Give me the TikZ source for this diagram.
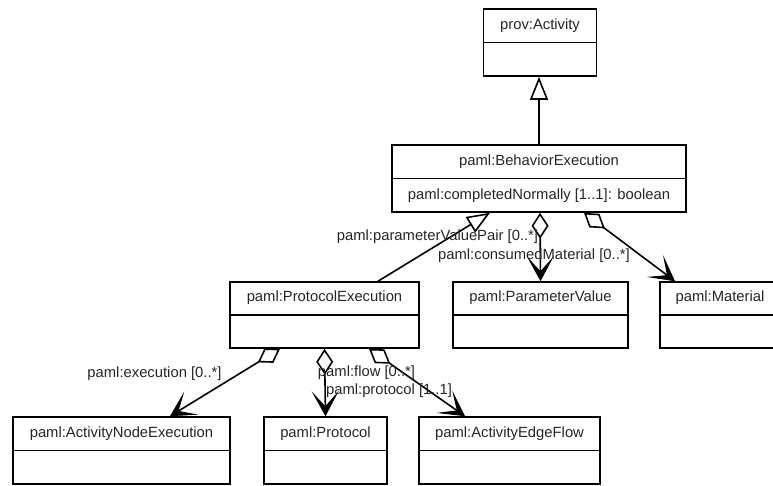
\documentclass[tikz,border=0pt]{standalone}
\usepackage{fontspec}
\setmainfont{Liberation Sans}
\usetikzlibrary{arrows.meta,calc}

\tikzset{
  classbox/.style={draw=black, line width=1.6pt, fill=white, inner sep=0pt},
  classline/.style={draw=black, line width=1.6pt},
  classtext/.style={inner sep=0pt, font=\fontsize{14.8}{17}\selectfont, text=black!85},
  roletext/.style={inner sep=0pt, font=\fontsize{14.8}{17}\selectfont, text=black!85},
  generalization/.style={line width=1.6pt,
    -{Triangle[length=23pt, width=18pt, fill=white, line width=1.6pt]}},
  aggregation/.style={line width=1.6pt,
    {Diamond[length=26pt, width=17pt, fill=white, line width=1.6pt]}-{Stealth[length=25pt, width=27pt, inset=15pt, line width=0.8pt]}},
}

% class box: name, centre x, centre y, width, height, class name
\newcommand\umlclass[6]{%
  \node[classbox, minimum width=#4pt, minimum height=#5pt] (#1) at (#2,#3) {};
  \draw[classline] (#1.west) -- (#1.east);
  \node[classtext] (#1-title) at ($(#1.north)!0.5!(#1.center)$) {#6};
}

\begin{document}
\begin{tikzpicture}[x=1pt, y=-1pt]
  \clip (0,0) rectangle (773,485);

  % classes
  \umlclass{act}{540}{42.5}{113}{67}{prov:Activity}
  \umlclass{beh}{539}{178.5}{294}{67}{paml:BehaviorExecution}
  \node[classtext] (beh-attr) at ($(beh.south)!0.5!(beh.center)$)
    {paml:completedNormally [1..1]: boolean};
  \umlclass{pe}{324.5}{315}{189}{66}{paml:ProtocolExecution}
  \umlclass{pv}{540.5}{315}{175}{66}{paml:ParameterValue}
  \umlclass{mat}{720}{315}{120}{66}{paml:Material}
  \umlclass{ane}{121.5}{450.5}{217}{67}{paml:ActivityNodeExecution}
  \umlclass{prot}{325.5}{450.5}{123}{67}{paml:Protocol}
  \umlclass{aef}{509.5}{450.5}{181}{67}{paml:ActivityEdgeFlow}

  % inheritance
  \draw[generalization] (beh.north) -- (beh.north |- act.south);
  \draw[generalization] ([xshift=53.5pt]pe.north) -- ([xshift=-49pt]beh.south);

  % associations
  \draw[aggregation] ([xshift=1pt]beh.south) -- (pv.north);
  \draw[aggregation] ([xshift=45pt]beh.south) -- ([xshift=-45pt]mat.north);
  \draw[aggregation] ([xshift=-44.5pt]pe.south) -- ([xshift=48.5pt]ane.north);
  \draw[aggregation] (pe.south) -- (prot.north);
  \draw[aggregation] ([xshift=44.5pt]pe.south) -- ([xshift=-44.5pt]aef.north);

  % role labels
  \node[roletext] (l-pvp) at (437.5,237) {paml:parameterValuePair [0..*]};
  \node[roletext] (l-cm) at (534,256) {paml:consumedMaterial [0..*]};
  \node[roletext] (l-exec) at (154.5,374) {paml:execution [0..*]};
  \node[roletext] (l-flow) at (366.5,373) {paml:flow [0..*]};
  \node[roletext] (l-prot) at (389,391) {paml:protocol [1..1]};
\end{tikzpicture}
\end{document}
